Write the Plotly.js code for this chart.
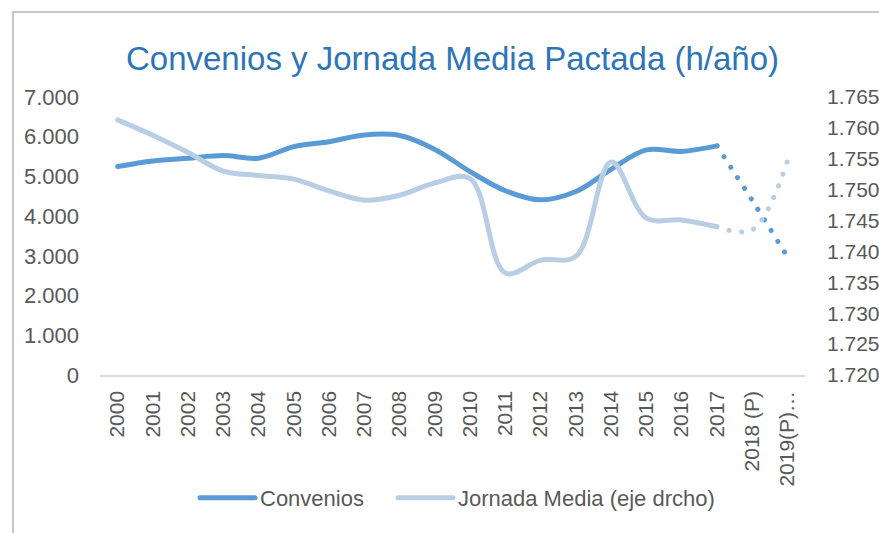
<!DOCTYPE html>
<html>
<head>
<meta charset="utf-8">
<script src="https://cdn.plot.ly/plotly-3.0.1.min.js"></script>
<style>
  html, body { margin: 0; padding: 0; background: #fff; }
  #chart { width: 879px; height: 533px; }
  .js-line { stroke-linecap: round; stroke-linejoin: round; }
</style>
</head>
<body>
<div id="chart"></div>
<script>
const years = ['2000','2001','2002','2003','2004','2005','2006','2007','2008','2009',
               '2010','2011','2012','2013','2014','2015','2016','2017','2018 (P)','2019(P)…'];
const convenios = [5250, 5390, 5460, 5525, 5460, 5750, 5875, 6045, 6030, 5680,
                   5120, 4640, 4410, 4620, 5180, 5668, 5630, 5770, 4400, 2980];
const jornada = [1761.3, 1758.8, 1756.0, 1753.0, 1752.3, 1751.7, 1749.8, 1748.3, 1749.1, 1751.1,
                 1751.8, 1736.5, 1738.6, 1739.2, 1754.5, 1745.4, 1745.1, 1744.0, 1743.5, 1754.6];
const lastReal = 17; // 2017: index where projections start

const darkBlue = '#5B9BD5';
const lightBlue = '#B9CDE5';
const textGrey = '#595959';
const fontFam = 'Liberation Sans, Arial, sans-serif';

const traces = [
  {
    name: 'Convenios', x: years.slice(0, lastReal + 1), y: convenios.slice(0, lastReal + 1),
    type: 'scatter', mode: 'lines', yaxis: 'y', legend: 'legend',
    line: { color: darkBlue, width: 5, shape: 'spline', smoothing: 1 }
  },
  {
    name: 'Jornada Media (eje drcho)', x: years.slice(0, lastReal + 1), y: jornada.slice(0, lastReal + 1),
    type: 'scatter', mode: 'lines', yaxis: 'y2', legend: 'legend2',
    line: { color: lightBlue, width: 5, shape: 'spline', smoothing: 1 }
  },
  {
    name: 'Convenios (P)', x: years.slice(lastReal), y: convenios.slice(lastReal),
    type: 'scatter', mode: 'lines', yaxis: 'y', showlegend: false,
    line: { color: darkBlue, width: 5, shape: 'spline', smoothing: 1, dash: '0.1px,12.5px' }
  },
  {
    name: 'Jornada Media (P)', x: years.slice(lastReal), y: jornada.slice(lastReal),
    type: 'scatter', mode: 'lines', yaxis: 'y2', showlegend: false,
    line: { color: lightBlue, width: 5, shape: 'spline', smoothing: 1, dash: '0.1px,12.5px' }
  }
];

const legendStyle = {
  orientation: 'h', xanchor: 'left', y: -0.442, yanchor: 'middle',
  font: { family: fontFam, size: 22, color: textGrey },
  itemwidth: 55, bgcolor: 'rgba(0,0,0,0)'
};

const layout = {
  width: 879, height: 533,
  margin: { l: 100, r: 74, t: 97, b: 158 },
  paper_bgcolor: '#ffffff', plot_bgcolor: '#ffffff',
  separators: ',.',
  font: { family: fontFam, size: 21, color: textGrey },
  title: {
    text: 'Convenios y Jornada Media Pactada (h/año)',
    font: { family: fontFam, size: 33, color: '#2E75B6' },
    x: 0.5, xref: 'paper', y: 1 - 58 / 533, yref: 'container', yanchor: 'middle'
  },
  xaxis: {
    type: 'category', range: [-0.5, 19.5], tickangle: -90,
    showgrid: false, zeroline: false, showline: true, linecolor: '#D9D9D9', linewidth: 1.5,
    ticks: '', ticklabelstandoff: 6,
    tickfont: { family: fontFam, size: 21, color: textGrey }
  },
  yaxis: {
    range: [0, 7000], dtick: 1000, tick0: 0, tickformat: ',d',
    showgrid: false, zeroline: false, showline: false, ticks: '', ticklabelstandoff: 20,
    tickfont: { family: fontFam, size: 22, color: textGrey }
  },
  yaxis2: {
    range: [1720, 1765], dtick: 5, tick0: 1720, tickformat: ',d', overlaying: 'y', side: 'right',
    showgrid: false, zeroline: false, showline: false, ticks: '', ticklabelstandoff: 21,
    tickfont: { family: fontFam, size: 21, color: textGrey }
  },
  showlegend: true,
  legend: Object.assign({}, legendStyle, { x: (195 - 100) / 705 }),
  legend2: Object.assign({}, legendStyle, { x: (393 - 100) / 705 }),
  shapes: [
    {
      type: 'rect', xref: 'paper', yref: 'paper',
      x0: (13 - 100) / 705, x1: 1.5, y0: -1.0, y1: (375 - 12) / 278,
      line: { color: '#C8C8C8', width: 2 }, fillcolor: 'rgba(0,0,0,0)', layer: 'below'
    }
  ]
};

Plotly.newPlot('chart', traces, layout, { displayModeBar: false, staticPlot: true });
</script>
</body>
</html>
